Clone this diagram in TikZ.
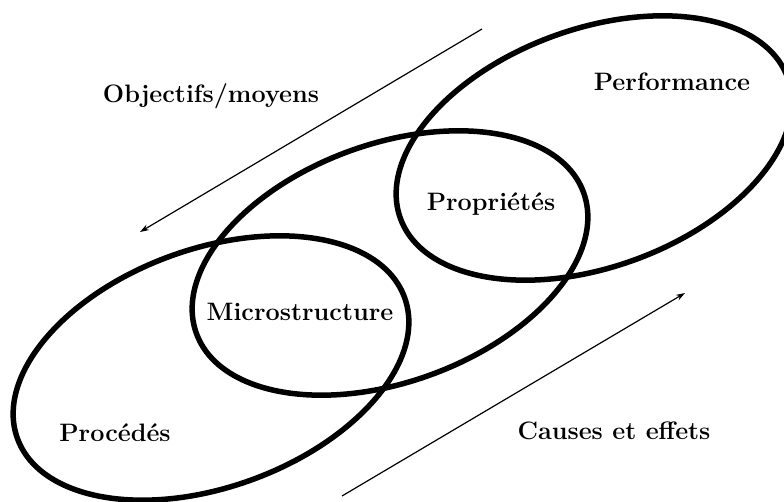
\documentclass[tikz,border=0pt]{standalone}
\usetikzlibrary{shapes.geometric,arrows.meta}
\begin{document}
\begin{tikzpicture}[x=1pt,y=-1pt,
  zone/.style={ellipse,draw,line width=5.5pt,rotate=20,minimum width=412pt,minimum height=238pt,inner sep=0pt},
  lbl/.style={font=\fontsize{25.2}{29}\selectfont\bfseries,inner sep=0pt},
  flow/.style={line width=1.2pt,-{Stealth[length=9pt,width=6pt]}}]
\useasboundingbox (0,0) rectangle (784,502);
\node[zone] (proc) at (211,368) {};
\node[zone] (micro) at (390,263) {};
\node[zone] (perf) at (594,148) {};
\node[lbl] (tproc) at (115,433) {Procédés};
\node[lbl] (tmicro) at (300,312) {Microstructure};
\node[lbl] (tprop) at (491,204) {Propriétés};
\node[lbl] (tperf) at (672,82) {Performance};
\node[lbl] (tobj) at (211,96) {Objectifs/moyens};
\node[lbl] (tcause) at (614,431) {Causes et effets};
\coordinate (o1) at (482,29);
\coordinate (o2) at (140,232);
\coordinate (c1) at (342,496);
\coordinate (c2) at (685,293);
\draw[flow] (o1) -- (o2);
\draw[flow] (c1) -- (c2);
\end{tikzpicture}
\end{document}
